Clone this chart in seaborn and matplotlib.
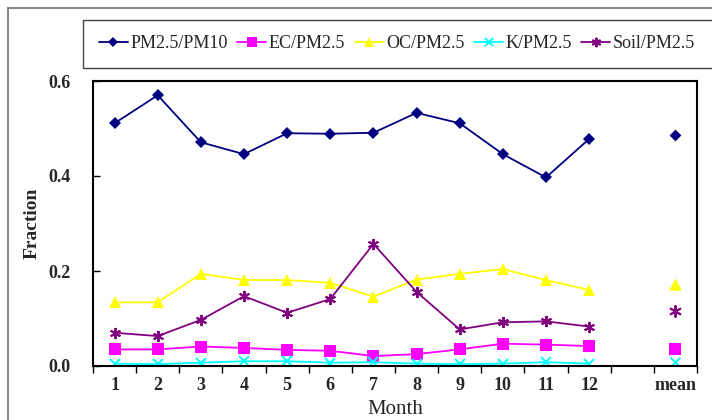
import numpy as np
import pandas as pd
import matplotlib
matplotlib.use("Agg")
import matplotlib.pyplot as plt
from matplotlib.patches import Rectangle
import seaborn as sns

months = list(range(1, 13))
month_labels = [str(m) for m in months]
mean_label = "mean"

pm25_pm10 = [0.511, 0.570, 0.471, 0.446, 0.490, 0.489, 0.491, 0.533, 0.511, 0.446, 0.397, 0.478]
ec_pm25 = [0.035, 0.035, 0.041, 0.038, 0.034, 0.032, 0.021, 0.025, 0.035, 0.047, 0.045, 0.042]
oc_pm25 = [0.134, 0.134, 0.194, 0.181, 0.181, 0.175, 0.146, 0.182, 0.194, 0.204, 0.181, 0.160]
k_pm25 = [0.005, 0.004, 0.007, 0.010, 0.010, 0.007, 0.008, 0.005, 0.004, 0.005, 0.008, 0.005]
soil_pm25 = [0.070, 0.063, 0.097, 0.147, 0.112, 0.141, 0.257, 0.156, 0.077, 0.092, 0.094, 0.083]

mean_values = {
    "PM2.5/PM10": 0.486,
    "EC/PM2.5": 0.036,
    "OC/PM2.5": 0.173,
    "K/PM2.5": 0.008,
    "Soil/PM2.5": 0.116,
}

series = {
    "PM2.5/PM10": pm25_pm10,
    "EC/PM2.5": ec_pm25,
    "OC/PM2.5": oc_pm25,
    "K/PM2.5": k_pm25,
    "Soil/PM2.5": soil_pm25,
}

styles = {
    "PM2.5/PM10": dict(color="#000080", marker="D", ms=6, mew=0),
    "EC/PM2.5": dict(color="#FF00FF", marker="s", ms=8, mew=0),
    "OC/PM2.5": dict(color="#FFFF00", marker="^", ms=9, mew=0),
    "K/PM2.5": dict(color="#00FFFF", marker="x", ms=7, mew=1.4),
    "Soil/PM2.5": dict(color="#800080", marker=(6, 2, 0), ms=8, mew=1.4),
}

sns.set_theme(style="white")
plt.rcParams["font.family"] = ["Liberation Serif", "DejaVu Serif"]

fig = plt.figure(figsize=(7.12, 4.2), dpi=100)
ax = fig.add_axes([93 / 712, 54 / 420, 604 / 712, 285 / 420])

mean_pos = 14
handles = []
for name, vals in series.items():
    st = styles[name]
    sns.lineplot(x=months, y=vals, ax=ax, color=st["color"], linewidth=1.3,
                 marker=st["marker"], markersize=st["ms"], markeredgewidth=st["mew"],
                 markeredgecolor=st["color"], label=name, legend=False)
    sns.scatterplot(x=[mean_pos], y=[mean_values[name]], ax=ax, color=st["color"],
                    marker=st["marker"], s=st["ms"] ** 2, linewidth=st["mew"],
                    edgecolor=st["color"], legend=False)
    handles.append(plt.Line2D([0], [0], color=st["color"], lw=1.3, marker=st["marker"],
                              markersize=st["ms"] * 0.85, markeredgewidth=st["mew"],
                              markeredgecolor=st["color"], label=name))

ax.set_xlim(0.5, 14.5)
ax.set_ylim(0, 0.6)
ax.set_xticks(months + [mean_pos])
ax.set_xticklabels(month_labels + [mean_label])
ax.set_xticks(np.arange(0.5, 15, 1), minor=True)
ax.tick_params(axis="x", which="major", length=0, pad=8, labelsize=13)
ax.tick_params(axis="x", which="minor", length=5, width=1, direction="out", color="black", bottom=True)
ax.set_yticks([0.0, 0.2, 0.4, 0.6])
ax.set_yticklabels(["0.0", "0.2", "0.4", "0.6"])
ax.tick_params(axis="y", which="major", length=5, width=1, direction="in", color="black", left=True,
               pad=16, labelsize=13)
for lab in ax.get_xticklabels() + ax.get_yticklabels():
    lab.set_fontweight("bold")

for sp in ax.spines.values():
    sp.set_color("black")
    sp.set_linewidth(1.5)

ax.set_xlabel("Month", fontsize=15, labelpad=4)
ax.set_ylabel("Fraction", fontsize=14, fontweight="bold", labelpad=6)

# legend box runs off the right edge like the reference
fig.patches.append(Rectangle((83 / 712, 1 - 68 / 420), 0.95, 48 / 420, transform=fig.transFigure,
                             fill=False, edgecolor="#444444", linewidth=1.0))
leg = fig.legend(handles=handles, loc="center left", ncol=5,
                 bbox_to_anchor=(90 / 712, 1 - 44 / 420), frameon=False,
                 fontsize=13, handlelength=1.6, handletextpad=0.12, columnspacing=0.55,
                 borderpad=0)

fig.patches.append(Rectangle((8 / 712, -0.1), 1.2, 1 - 8 / 420 + 0.1, transform=fig.transFigure,
                             fill=False, edgecolor="#888888", linewidth=1.5))

fig.savefig("out.png", dpi=100)
